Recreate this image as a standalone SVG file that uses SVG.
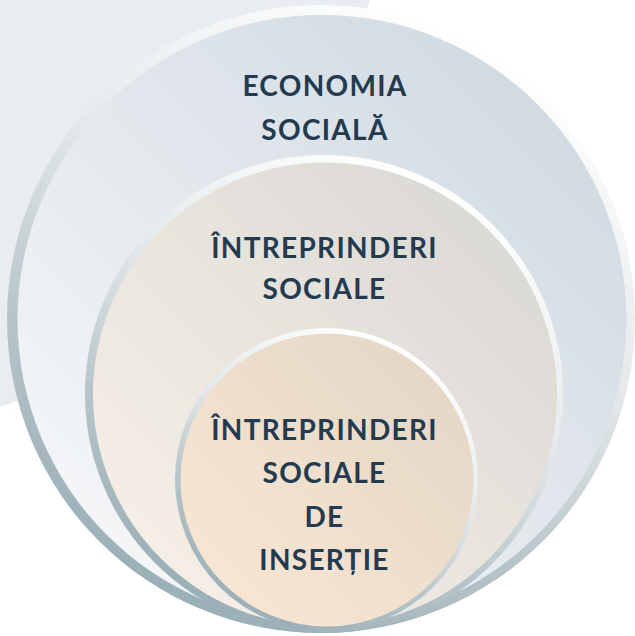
<svg xmlns="http://www.w3.org/2000/svg" width="635" height="636" viewBox="0 0 635 636">
  <defs>
    <linearGradient id="rim" x1="0.75" y1="0.05" x2="0.3" y2="0.95">
      <stop offset="0" stop-color="#ffffff"/>
      <stop offset="0.4" stop-color="#e4e9ea"/>
      <stop offset="0.72" stop-color="#b7c5ca"/>
      <stop offset="1" stop-color="#9cb0b7"/>
    </linearGradient>
    <linearGradient id="fillOuter" x1="0.85" y1="0.15" x2="0.15" y2="0.85">
      <stop offset="0" stop-color="#d2dbe3"/>
      <stop offset="1" stop-color="#f3f5f7"/>
    </linearGradient>
    <linearGradient id="fillMid" x1="0.85" y1="0.15" x2="0.15" y2="0.85">
      <stop offset="0" stop-color="#dcdad5"/>
      <stop offset="1" stop-color="#f5eee7"/>
    </linearGradient>
    <linearGradient id="fillInner" x1="0.85" y1="0.15" x2="0.15" y2="0.85">
      <stop offset="0" stop-color="#e5d8c7"/>
      <stop offset="1" stop-color="#f7e5d1"/>
    </linearGradient>
    <style>
      .lbl { font-family: Lato, "Open Sans", "Liberation Sans", sans-serif; font-weight: 700; font-size: 28px; fill: #233a4f; text-anchor: middle; letter-spacing: 1.3px; }
    </style>
  </defs>
  <rect width="635" height="636" fill="#ffffff"/>
  <polygon points="0,0 370,0 268,318 0,407" fill="#e9edf1"/>

  <g id="economia-sociala">
    <circle cx="321" cy="319" r="314" fill="url(#rim)"/>
    <circle cx="322" cy="319.5" r="304.5" fill="url(#fillOuter)"/>
    <text class="lbl" x="325" y="95.5">ECONOMIA</text>
    <text class="lbl" x="325" y="139.5">SOCIALĂ</text>
  </g>

  <g id="intreprinderi-sociale">
    <circle cx="324" cy="394" r="239" fill="url(#rim)"/>
    <circle cx="325" cy="394.5" r="232" fill="url(#fillMid)"/>
    <text class="lbl" x="324.5" y="257.5">ÎNTREPRINDERI</text>
    <text class="lbl" x="324.5" y="299">SOCIALE</text>
  </g>

  <g id="intreprinderi-insertie">
    <circle cx="326.5" cy="479.5" r="151.5" fill="url(#rim)"/>
    <circle cx="327" cy="480" r="146.5" fill="url(#fillInner)"/>
    <text class="lbl" x="324.5" y="440">ÎNTREPRINDERI</text>
    <text class="lbl" x="324.5" y="483">SOCIALE</text>
    <text class="lbl" x="324.5" y="527">DE</text>
    <text class="lbl" x="324.5" y="570">INSERȚIE</text>
  </g>

  <g id="connectors"/>
</svg>
